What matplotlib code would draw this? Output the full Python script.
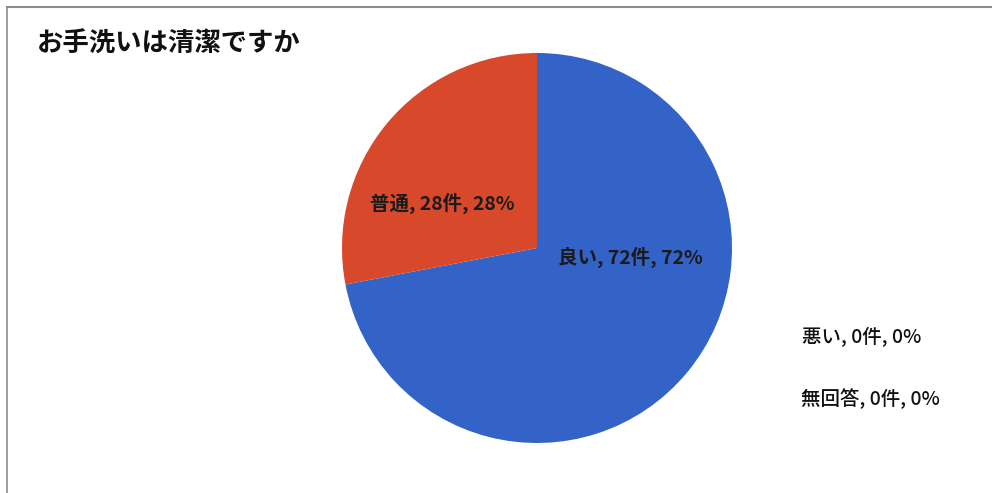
import matplotlib.pyplot as plt
from matplotlib.lines import Line2D

plt.rcParams['font.family'] = ['Noto Sans CJK JP', 'DejaVu Sans']

# Data
title = "お手洗いは清潔ですか"
categories = ["良い", "普通", "悪い", "無回答"]
counts = [72, 28, 0, 0]
percents = [72, 28, 0, 0]
colors = ["#3463C8", "#D8482A", "#A5A5A5", "#FFC000"]


def main():
    fig = plt.figure(figsize=(9.92, 4.93), dpi=100)
    W, H = 992, 493

    # pie axes centred at (537, 248) px, radius 195 px
    cx, cy, r = 537, 248, 195
    ax = fig.add_axes([(cx - r) / W, 1 - (cy + r) / H, 2 * r / W, 2 * r / H])
    wedges, _ = ax.pie(counts, colors=colors, startangle=90, counterclock=False,
                       radius=1.0, wedgeprops=dict(linewidth=0))
    ax.set_xlim(-1, 1)
    ax.set_ylim(-1, 1)
    ax.set_aspect("equal")
    ax.axis("off")

    labels = [f"{c}, {n}件, {p}%" for c, n, p in zip(categories, counts, percents)]

    # labels inside the wedges
    ax.text(0.48, -0.05, labels[0], ha="center", va="center", fontsize=14,
            fontweight="bold", color="#1a1a1a")
    ax.text(-0.485, 0.23, labels[1], ha="center", va="center", fontsize=14,
            fontweight="bold", color="#1a1a1a")

    # zero-value labels to the right
    fig.text(862 / W, 1 - 336 / H, labels[2], ha="center", va="center",
             fontsize=14, fontweight="medium", color="#111111")
    fig.text(870 / W, 1 - 399 / H, labels[3], ha="center", va="center",
             fontsize=14, fontweight="medium", color="#111111")

    # title
    fig.text(37 / W, 1 - 44 / H, title, ha="left", va="center",
             fontsize=19, fontweight="bold", color="#111111")

    # frame lines (top and left)
    fig.add_artist(Line2D([7 / W, 1.0], [1 - 7 / H, 1 - 7 / H], color="#8c8c8c", lw=1.5))
    fig.add_artist(Line2D([7 / W, 7 / W], [0, 1 - 7 / H], color="#8c8c8c", lw=1.2))

    fig.savefig("out.png", dpi=100)


if __name__ == "__main__":
    main()
